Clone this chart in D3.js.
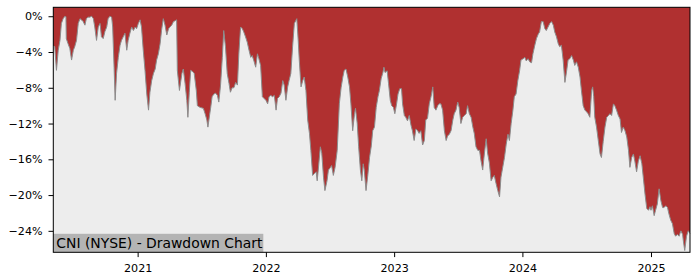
<!DOCTYPE html>
<html>
<head>
<meta charset="utf-8">
<script src="https://cdn.jsdelivr.net/npm/d3@7/dist/d3.min.js"></script>
<style>
	body{margin:0;background:#fff}
	svg text{font-family:"DejaVu Sans",sans-serif}
</style>
</head>
<body>
<div id="chart"></div>
<script>

// one line per month, dates and values kept in the same order
var dates=[
	"2020-05-06","2020-05-10","2020-05-15","2020-05-20","2020-05-25","2020-05-29",
	"2020-06-03","2020-06-08","2020-06-11","2020-06-12","2020-06-17","2020-06-22","2020-06-27",
	"2020-07-02","2020-07-06","2020-07-11","2020-07-16","2020-07-21","2020-07-25","2020-07-30",
	"2020-08-04","2020-08-08","2020-08-13","2020-08-18","2020-08-23","2020-08-28",
	"2020-09-01","2020-09-06","2020-09-11","2020-09-16","2020-09-20","2020-09-25","2020-09-30",
	"2020-10-05","2020-10-09","2020-10-14","2020-10-19","2020-10-22","2020-10-26","2020-10-29",
	"2020-11-02","2020-11-07","2020-11-12","2020-11-16","2020-11-21","2020-11-26",
	"2020-12-01","2020-12-05","2020-12-10","2020-12-15","2020-12-20","2020-12-25","2020-12-29",
	"2021-01-03","2021-01-08","2021-01-12","2021-01-17","2021-01-22","2021-01-27",
	"2021-02-01","2021-02-05","2021-02-10","2021-02-15","2021-02-20","2021-02-24",
	"2021-03-01","2021-03-06","2021-03-10","2021-03-15","2021-03-20","2021-03-25","2021-03-30",
	"2021-04-03","2021-04-08","2021-04-13","2021-04-18","2021-04-22","2021-04-24","2021-04-30",
	"2021-05-07","2021-05-11","2021-05-16","2021-05-21","2021-05-24","2021-05-28",
	"2021-06-01","2021-06-07","2021-06-11","2021-06-17","2021-06-20","2021-06-28",
	"2021-07-07","2021-07-12","2021-07-17","2021-07-20","2021-07-25","2021-07-28",
	"2021-08-01","2021-08-06","2021-08-11","2021-08-16","2021-08-20","2021-08-25","2021-08-30",
	"2021-09-03","2021-09-08","2021-09-13","2021-09-18","2021-09-22","2021-09-27",
	"2021-10-02","2021-10-07","2021-10-12","2021-10-16","2021-10-21","2021-10-26","2021-10-30",
	"2021-11-04","2021-11-09","2021-11-14","2021-11-19","2021-11-23","2021-11-28",
	"2021-12-03","2021-12-08","2021-12-12","2021-12-17","2021-12-22","2021-12-27",
	"2022-01-01","2022-01-06","2022-01-10","2022-01-15","2022-01-20","2022-01-25","2022-01-30",
	"2022-02-03","2022-02-08","2022-02-13","2022-02-18","2022-02-22","2022-02-27",
	"2022-03-04","2022-03-08","2022-03-13","2022-03-18","2022-03-23","2022-03-30",
	"2022-04-03","2022-04-06","2022-04-11","2022-04-16","2022-04-20","2022-04-25","2022-04-30",
	"2022-05-05","2022-05-09","2022-05-14","2022-05-19","2022-05-24","2022-05-27","2022-05-30",
	"2022-06-05","2022-06-09","2022-06-14","2022-06-18","2022-06-24","2022-06-28",
	"2022-07-04","2022-07-07","2022-07-12","2022-07-17","2022-07-23","2022-07-29",
	"2022-08-03","2022-08-08","2022-08-12","2022-08-17","2022-08-22","2022-08-27","2022-08-31",
	"2022-09-05","2022-09-10","2022-09-13","2022-09-18","2022-09-22","2022-09-27",
	"2022-10-01","2022-10-05","2022-10-08","2022-10-13","2022-10-18","2022-10-23","2022-10-28",
	"2022-11-01","2022-11-06","2022-11-11","2022-11-16","2022-11-20","2022-11-25","2022-11-30",
	"2022-12-03","2022-12-06","2022-12-12","2022-12-16","2022-12-21","2022-12-25","2022-12-30",
	"2023-01-03","2023-01-08","2023-01-12","2023-01-17","2023-01-22","2023-01-25","2023-01-30",
	"2023-02-03","2023-02-08","2023-02-13","2023-02-18","2023-02-22","2023-02-27",
	"2023-03-04","2023-03-09","2023-03-13","2023-03-18","2023-03-23","2023-03-28",
	"2023-04-01","2023-04-06","2023-04-11","2023-04-16","2023-04-21","2023-04-25","2023-04-30",
	"2023-05-05","2023-05-09","2023-05-14","2023-05-19","2023-05-24","2023-05-29",
	"2023-06-02","2023-06-07","2023-06-12","2023-06-17","2023-06-21","2023-06-26",
	"2023-07-01","2023-07-05","2023-07-10","2023-07-15","2023-07-20","2023-07-25","2023-07-29",
	"2023-08-03","2023-08-08","2023-08-13","2023-08-17","2023-08-22","2023-08-27",
	"2023-09-01","2023-09-05","2023-09-10","2023-09-15","2023-09-20","2023-09-24","2023-09-29",
	"2023-10-04","2023-10-09","2023-10-13","2023-10-18","2023-10-23","2023-10-28",
	"2023-11-01","2023-11-06","2023-11-11","2023-11-16","2023-11-21","2023-11-25","2023-11-30",
	"2023-12-05","2023-12-09","2023-12-14","2023-12-19","2023-12-24","2023-12-28",
	"2024-01-03","2024-01-08","2024-01-12","2024-01-17","2024-01-22","2024-01-27","2024-01-31",
	"2024-02-05","2024-02-10","2024-02-15","2024-02-19","2024-02-24","2024-02-29",
	"2024-03-05","2024-03-09","2024-03-14","2024-03-19","2024-03-24","2024-03-29",
	"2024-04-02","2024-04-07","2024-04-12","2024-04-16","2024-04-21","2024-04-26",
	"2024-05-01","2024-05-06","2024-05-10","2024-05-15","2024-05-20","2024-05-25","2024-05-29",
	"2024-06-03","2024-06-08","2024-06-13","2024-06-17","2024-06-22","2024-06-27",
	"2024-07-02","2024-07-06","2024-07-11","2024-07-16","2024-07-19","2024-07-22","2024-07-25","2024-07-30",
	"2024-08-04","2024-08-09","2024-08-13","2024-08-18","2024-08-23","2024-08-28",
	"2024-09-02","2024-09-06","2024-09-11","2024-09-16","2024-09-20","2024-09-25","2024-09-30",
	"2024-10-05","2024-10-09","2024-10-14","2024-10-19","2024-10-24","2024-10-29",
	"2024-11-02","2024-11-07","2024-11-12","2024-11-16","2024-11-21","2024-11-26",
	"2024-12-01","2024-12-06","2024-12-10","2024-12-15","2024-12-20","2024-12-25","2024-12-29",
	"2025-01-01","2025-01-05","2025-01-10","2025-01-14","2025-01-19","2025-01-24","2025-01-29",
	"2025-02-03","2025-02-07","2025-02-12","2025-02-17","2025-02-21","2025-02-26",
	"2025-03-03","2025-03-08","2025-03-12","2025-03-17","2025-03-22","2025-03-27",
	"2025-04-01","2025-04-03","2025-04-07","2025-04-12","2025-04-17","2025-04-22"
]

// drawdown in percent
var drawdown=[
	-3.25,-3.4,-6.05,-3.8,-2.7,-0.8,
	-0.27,0,-0.05,-2.5,-3.07,-3.6,-4.9,
	-3.8,-3.4,-2.7,-0.8,-0.27,-0.4,-0.6,
	-1.0,-0.27,-0.1,-0.1,0,-0.27,
	-1.2,-2.7,-1.2,-0.8,-2.3,-2.5,-1.7,
	-1.2,-0.27,0,-0.1,-1.2,-5.7,-9.4,
	-6.4,-4.6,-3.25,-2.7,-2.3,-1.9,
	-3.8,-2.7,-1.9,-1.2,-1.6,-1.2,-1.4,
	-0.8,-0.4,-1.2,-3.8,-6.05,-8.7,
	-10.5,-8.5,-7.2,-6.4,-5.9,-4.9,
	-4.2,-3.07,-1.6,-0.27,-1.0,-2.1,-1.4,
	-1.2,-1.0,-0.6,-0.5,-0.4,-6.05,-8.3,
	-6.4,-5.9,-7.5,-9.4,-11.3,-8.5,
	-6.05,-6.2,-6.4,-8.3,-10.0,-10.2,
	-10.3,-10.9,-11.6,-12.4,-11.0,-10.2,
	-9.0,-8.7,-8.6,-8.85,-9.6,-7.7,-4.6,
	-1.6,-3.4,-6.4,-7.5,-8.5,-8.0,
	-8.0,-7.4,-7.7,-4.2,-1.2,-1.4,-1.75,
	-2.3,-2.9,-3.8,-4.6,-4.4,-5.0,
	-5.7,-4.2,-4.75,-5.5,-9.0,-9.2,
	-9.4,-9.8,-9.0,-8.85,-9.0,-8.85,-10.5,
	-9.2,-9.0,-8.6,-7.2,-7.7,-9.4,
	-7.9,-7.2,-6.4,-3.4,-0.8,-0.27,
	-2.7,-4.9,-7.9,-7.2,-6.8,-8.3,-11.6,
	-13.1,-15.0,-17.8,-17.6,-17.4,-18.4,-17.2,
	-14.6,-15.3,-18.0,-19.5,-18.4,-17.2,
	-16.9,-16.7,-17.8,-16.9,-15.0,-9.8,
	-8.0,-6.8,-6.05,-5.9,-6.8,-7.9,-9.8,
	-12.8,-11.0,-10.3,-12.0,-14.6,-17.2,
	-18.4,-16.5,-17.2,-19.5,-17.8,-15.8,-14.5,
	-12.8,-12.4,-10.2,-9.0,-8.3,-7.0,-6.3,
	-5.7,-6.3,-6.1,-7.5,-9.4,-10.0,-10.2,
	-10.9,-9.8,-8.7,-8.1,-8.1,-9.8,-11.1,
	-11.3,-11.7,-11.1,-12.2,-12.8,-13.9,
	-12.6,-12.8,-13.1,-12.8,-14.4,-13.9,
	-11.6,-11.4,-9.8,-9.0,-7.9,-10.2,-10.5,
	-10.0,-9.8,-9.8,-10.5,-12.8,-13.9,
	-13.4,-13.2,-12.8,-11.6,-10.9,-10.5,
	-9.6,-10.2,-12.0,-11.3,-11.1,-10.9,-10.0,
	-10.9,-11.3,-12.4,-13.1,-14.6,-15.0,
	-15.0,-16.1,-17.2,-15.3,-13.7,-15.3,-16.4,
	-18.4,-18.0,-17.8,-18.7,-19.5,-20.2,
	-18.0,-16.9,-15.8,-14.3,-13.2,-13.9,-12.0,
	-10.5,-9.0,-8.7,-7.2,-6.1,-4.9,
	-4.75,-4.6,-5.0,-4.75,-5.1,-5.2,-4.2,
	-3.3,-2.5,-2.0,-1.75,-0.6,-0.6,
	-1.4,-1.6,-1.2,-0.8,-0.6,-1.0,
	-1.75,-2.3,-3.07,-3.4,-3.25,-4.9,
	-7.4,-6.1,-4.9,-4.75,-4.4,-4.9,-5.5,
	-5.1,-5.7,-6.8,-8.3,-10.0,-10.5,
	-10.7,-10.9,-11.3,-8.3,-7.9,-9.0,-11.3,-12.4,
	-13.9,-15.4,-15.8,-14.0,-12.4,-11.3,
	-11.1,-10.9,-11.1,-9.8,-10.0,-10.5,-11.1,
	-11.5,-13.0,-12.4,-12.8,-13.5,-15.0,
	-16.9,-15.8,-15.4,-16.2,-17.4,-16.2,
	-15.6,-16.5,-18.0,-19.9,-21.5,-21.7,-21.3,
	-21.7,-21.2,-22.3,-21.7,-21.0,-19.3,-20.6,
	-21.4,-21.4,-21.2,-21.4,-22.1,-22.8,
	-23.2,-24.3,-24.6,-24.4,-24.6,-24.0,
	-24.4,-25.1,-26.2,-24.6,-24.0,-24.3
]

var yTicks=[0,-4,-8,-12,-16,-20,-24]
var xTickYears=["2021","2022","2023","2024","2025"]
var chartLabel="CNI (NYSE) - Drawdown Chart"

if(dates.length!=drawdown.length)
	console.log("length mismatch",dates.length,drawdown.length)

var parse=d3.timeParse("%Y-%m-%d")
var data=dates.map((d,i)=>({date:parse(d),value:drawdown[i]}))

var W=700,H=280
var margin={top:7.3,right:10,bottom:27.7,left:53.3}
var w=W-margin.left-margin.right
var h=H-margin.top-margin.bottom

var svg=d3.select("#chart").append("svg")
	.attr("width",W)
	.attr("height",H)

var g=svg.append("g")
	.attr("transform","translate("+margin.left+","+margin.top+")")

var xScale=d3.scaleTime()
	.domain(d3.extent(data,d=>d.date))
	.range([0,w])

var yScale=d3.scaleLinear()
	.domain([-26.4,1.0])
	.range([h,0])

// grey background below the curve
g.append("rect")
	.attr("width",w)
	.attr("height",h)
	.attr("fill","#ededed")

// red from the top of the plot down to the drawdown
var area=d3.area()
	.x(d=>xScale(d.date))
	.y0(0)
	.y1(d=>yScale(d.value))

g.append("path")
	.datum(data)
	.attr("fill","#b03030")
	.attr("d",area)

var line=d3.line()
	.x(d=>xScale(d.date))
	.y(d=>yScale(d.value))

g.append("path")
	.datum(data)
	.attr("fill","none")
	.attr("stroke","#8c8c8c")
	.attr("stroke-width",1)
	.attr("d",line)

// label box bottom left
var lbl=g.append("g").attr("transform","translate(0,"+h+")")
lbl.append("rect")
	.attr("x",0)
	.attr("y",-18.5)
	.attr("width",210)
	.attr("height",18.5)
	.attr("fill","#b4b4b4")
lbl.append("text")
	.attr("x",3)
	.attr("y",-4.5)
	.attr("font-size","13.9px")
	.attr("fill","#000")
	.text(chartLabel)

// axes
var yAxis=g.append("g")
	.call(d3.axisLeft(yScale).tickValues(yTicks).tickSize(4.8).tickPadding(6)
		.tickFormat(d=>(d<0?"\u2212"+Math.abs(d):d)+"%"))

var xAxis=g.append("g")
	.attr("transform","translate(0,"+h+")")
	.call(d3.axisBottom(xScale)
		.tickValues(xTickYears.map(y=>parse(y+"-01-01")))
		.tickSize(4.8).tickPadding(6.7)
		.tickFormat(d3.timeFormat("%Y")))

svg.selectAll(".tick text")
	.attr("font-size","11.1px")
	.attr("font-family","DejaVu Sans")
	.attr("fill","#000")
svg.selectAll(".tick line").attr("stroke","#000")
svg.selectAll(".domain").remove()

// frame
g.append("rect")
	.attr("width",w)
	.attr("height",h)
	.attr("fill","none")
	.attr("stroke","#000")
	.attr("stroke-width",1)

</script>
</body>
</html>
